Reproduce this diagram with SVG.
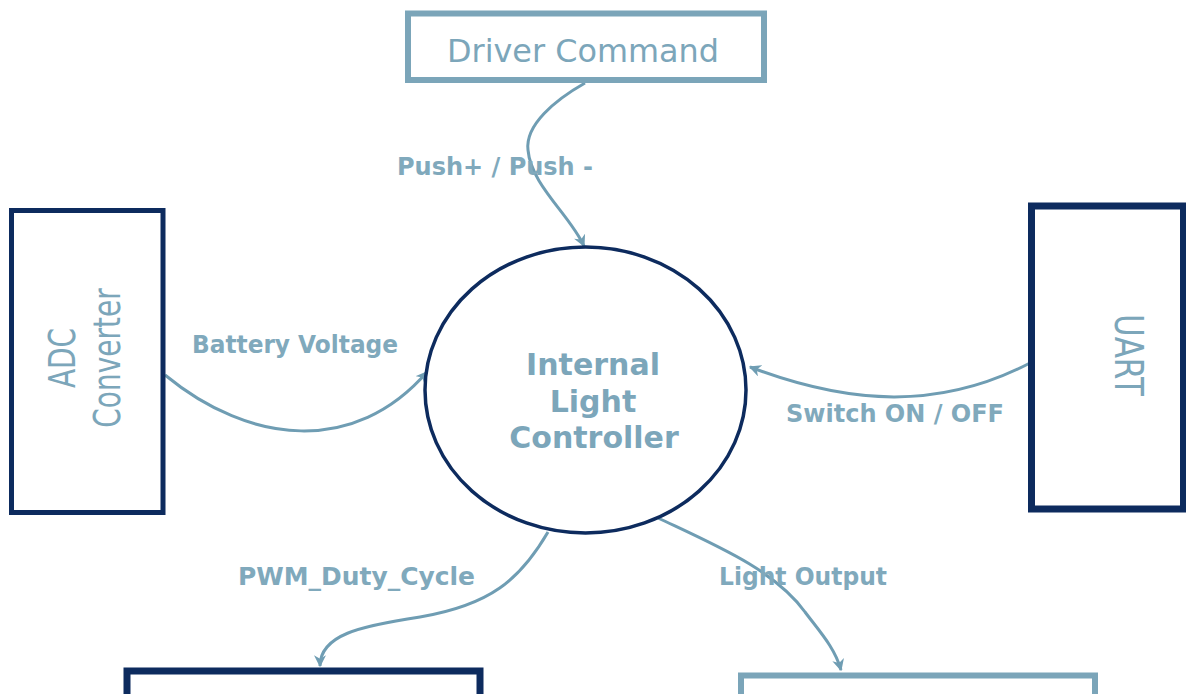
<svg xmlns="http://www.w3.org/2000/svg" width="1186" height="694" viewBox="0 0 1186 694">
<defs>
<style>
.light{fill:#ffffff;stroke:#7ba5b9;}
.navy{fill:#ffffff;stroke:#0d2b5e;}
.ntext{font-family:"DejaVu Sans",Verdana,sans-serif;fill:#7ca6ba;}
.ctext{font-family:"DejaVu Sans",Verdana,sans-serif;font-weight:bold;font-size:30px;fill:#7ca6ba;text-anchor:middle;}
.lbl{font-family:"DejaVu Sans",Verdana,sans-serif;font-weight:bold;font-size:24px;fill:#80a9bc;}
.conn{fill:none;stroke:#6f9db3;stroke-width:3;marker-end:url(#arr);}
</style>
<marker id="arr" viewBox="0 0 10 10" refX="9" refY="5" markerWidth="4" markerHeight="4" orient="auto" markerUnits="strokeWidth">
<path d="M0,0 L10,5 L0,10 L3,5 Z" fill="#6f9db3"/>
</marker>
</defs>
<rect width="1186" height="694" fill="#ffffff"/>

<g id="connectors">
<path class="conn" d="M585,83 C555,100 525,125 528,150 C531,185 570,215 584,246"/>
<path class="conn" d="M165,375 C250,445 355,455 427,372"/>
<path class="conn" d="M1030,363 C940,410 850,405 750,367"/>
<path class="conn" d="M548,532 C520,580 490,605 420,617 C360,626 320,635 320,666"/>
<path class="conn" d="M658,518 C715,545 775,570 805,612 C820,632 835,648 841,670"/>
<text class="lbl" x="397" y="175" textLength="196" lengthAdjust="spacingAndGlyphs">Push+ / Push -</text>
<text class="lbl" x="192" y="353" textLength="206" lengthAdjust="spacingAndGlyphs">Battery Voltage</text>
<text class="lbl" x="786" y="422" textLength="218" lengthAdjust="spacingAndGlyphs">Switch ON / OFF</text>
<text class="lbl" x="238" y="585" textLength="237" lengthAdjust="spacingAndGlyphs">PWM_Duty_Cycle</text>
<text class="lbl" x="719" y="585" textLength="168" lengthAdjust="spacingAndGlyphs">Light Output</text>
</g>

<g id="driver-command">
<rect class="light" x="408" y="13.5" width="356" height="66.5" stroke-width="6"/>
<text class="ntext" x="583" y="62" font-size="32" text-anchor="middle" textLength="272" lengthAdjust="spacingAndGlyphs">Driver Command</text>
</g>

<g id="adc-converter">
<rect class="navy" x="11.5" y="210.5" width="151.5" height="302" stroke-width="5"/>
<text class="ntext" font-size="28" text-anchor="middle" transform="translate(75,358) rotate(-90) scale(1,1.35)">ADC</text>
<text class="ntext" font-size="28" text-anchor="middle" transform="translate(120,358) rotate(-90) scale(1,1.35)">Converter</text>
</g>

<g id="uart">
<rect class="navy" x="1031.5" y="206" width="152" height="303" stroke-width="7"/>
<text class="ntext" font-size="31" text-anchor="middle" transform="translate(1115,355) rotate(90) scale(1,1.25)">UART</text>
</g>

<g id="internal-light-controller">
<ellipse class="navy" cx="585.5" cy="390" rx="160.5" ry="143" stroke-width="3.5"/>
<text class="ctext" x="593" y="375">Internal</text>
<text class="ctext" x="593" y="412">Light</text>
<text class="ctext" x="594" y="448">Controller</text>
</g>

<g id="pwm-box">
<rect class="navy" x="127" y="671" width="353" height="40" stroke-width="7"/>
</g>

<g id="light-output-box">
<rect class="light" x="741" y="675.5" width="354" height="40" stroke-width="6"/>
</g>
</svg>
